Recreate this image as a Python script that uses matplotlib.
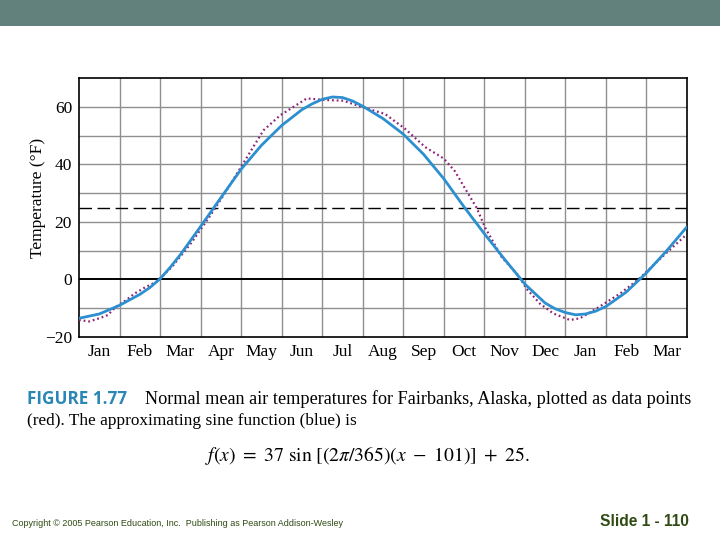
import matplotlib
matplotlib.use("Agg")
import matplotlib.pyplot as plt
from matplotlib.patches import Rectangle

# ---------------- data ----------------
month_labels = ["Jan", "Feb", "Mar", "Apr", "May", "Jun", "Jul", "Aug",
                "Sep", "Oct", "Nov", "Dec", "Jan", "Feb", "Mar"]

# approximating sine curve (blue) (x in months from Jan 1)
blue_x = [0.0, 0.5, 1.0, 1.5, 1.75, 2.0, 2.25, 2.5, 3.0, 3.5, 4.0, 4.5, 5.0, 5.5,
          5.75, 6.0, 6.25, 6.5, 6.75, 7.0, 7.5, 8.0, 8.5, 9.0, 9.5, 10.0, 10.5,
          11.0, 11.5, 11.75, 12.0, 12.25, 12.5, 12.75, 13.0, 13.5, 14.0, 14.5, 15.0]
blue_y = [-13.5, -12.0, -9.0, -5.2, -2.8, 0.2, 4.2, 8.6, 18.4, 28.4, 38.3, 46.6,
          53.5, 59.0, 61.0, 62.6, 63.4, 63.2, 62.0, 60.2, 55.9, 50.5, 43.5, 35.0,
          25.2, 15.9, 7.0, -1.6, -8.2, -10.2, -11.5, -12.3, -12.0, -11.0, -9.4,
          -4.4, 2.3, 10.0, 18.3]

# observed data points (red)
red_x = [0.0, 0.25, 0.5, 0.71, 0.91, 1.16, 1.37, 1.65, 1.9, 2.29, 2.78, 3.23,
         3.6, 4.05, 4.55, 4.96, 5.62, 6.03, 6.52, 7.01, 7.55, 8.04, 8.54, 9.0,
         9.28, 9.52, 9.81, 10.02, 10.43, 10.84, 11.04, 11.37, 11.7, 12.11,
         12.36, 12.77, 13.35, 13.8, 14.46, 14.95]
red_y = [-14.1, -14.6, -13.5, -12.4, -9.5, -7.2, -4.9, -2.6, -0.9, 4.3, 12.9, 22.0,
         30.0, 40.3, 51.8, 57.0, 62.9, 62.4, 62.1, 59.8, 57.5, 52.4, 46.0, 42.0,
         37.5, 31.7, 24.9, 18.0, 7.7, 1.4, -3.2, -8.4, -11.8, -14.1,
         -13.5, -10.1, -4.9, 0.0, 8.8, 15.1]

mean_level = 25
y_ticks = [-20, 0, 20, 40, 60]
y_tick_labels = ["\u221220", "0", "20", "40", "60"]

# ---------------- figure ----------------
W, H = 720, 540
fig = plt.figure(figsize=(7.2, 5.4), dpi=100)
fig.patch.set_facecolor("white")

# top banner
fig.patches.append(Rectangle((0, 1 - 26 / H), 1, 26 / H, transform=fig.transFigure,
                             facecolor="#62807c", edgecolor="none", zorder=0))

serif = ["Liberation Serif", "DejaVu Serif"]

ax = fig.add_axes([79 / W, 1 - 337 / H, (687 - 79) / W, (337 - 78) / H])
ax.set_xlim(0, len(month_labels))
ax.set_ylim(-20, 70)

# grid
for i in range(1, len(month_labels)):
    ax.axvline(i, color="#8f8f8f", lw=1.0, zorder=1)
for v in range(-10, 70, 10):
    if v == 0:
        continue
    ax.axhline(v, color="#8f8f8f", lw=1.0, zorder=1)
ax.axhline(0, color="black", lw=1.4, zorder=2)
ax.axhline(mean_level, color="black", lw=1.0, dashes=(9, 4), zorder=2)

ax.plot(red_x, red_y, color="#8e2376", lw=1.6, linestyle=(0, (0.8, 1.3)),
        zorder=3)
ax.plot(blue_x, blue_y, color="#2b8fd0", lw=2.0, zorder=4,
        solid_joinstyle="round", solid_capstyle="round")

for s in ax.spines.values():
    s.set_color("black")
    s.set_linewidth(1.2)

ax.set_yticks(y_ticks)
ax.set_yticklabels(y_tick_labels, fontfamily=serif, fontsize=12.5)
ax.set_xticks([i + 0.5 for i in range(len(month_labels))])
ax.set_xticklabels(month_labels, fontfamily=serif, fontsize=12.5)
ax.tick_params(length=0, pad=5)
ax.set_ylabel("Temperature (\u00b0F)", fontfamily=serif, fontsize=12.5)
ax.yaxis.set_label_coords(-0.054, 0.537)

# ---------------- caption ----------------
renderer = fig.canvas.get_renderer()


def fit_text(x, y, s, width_px, **kw):
    t = fig.text(x / W, 1 - y / H, s, **kw)
    w = t.get_window_extent(renderer).width
    t.set_fontsize(t.get_fontsize() * width_px / w)
    return t


fit_text(27, 399, "FIGURE 1.77", 100, fontfamily=["Open Sans", "DejaVu Sans"],
         fontweight="bold", color="#2a86b5", fontsize=12, va="center")
fit_text(145, 399, "Normal mean air temperatures for Fairbanks, Alaska, plotted as data points",
         545, fontfamily=serif, fontsize=13, va="center", color="black")
fit_text(27, 421, "(red). The approximating sine function (blue) is",
         328, fontfamily=serif, fontsize=13, va="center", color="black")

plt.rcParams["mathtext.fontset"] = "stix"
fit_text(205, 456, r"$f(x)\ =\ 37\ \sin\,[(2\pi/365)(x\ -\ 101)]\ +\ 25.$",
         325, fontsize=13, va="center", color="black")

# ---------------- footer ----------------
fit_text(12, 524, "Copyright \u00a9 2005 Pearson Education, Inc.  Publishing as Pearson Addison-Wesley",
         332, fontfamily=["Liberation Sans", "DejaVu Sans"], fontsize=6.5,
         va="center", color="#2f4a12")
fit_text(600, 521, "Slide 1 - 110", 89, fontfamily=["Liberation Sans", "DejaVu Sans"],
         fontweight="bold", fontsize=10, va="center", color="#2f4a12")

fig.savefig("out.png", dpi=100, facecolor="white")
